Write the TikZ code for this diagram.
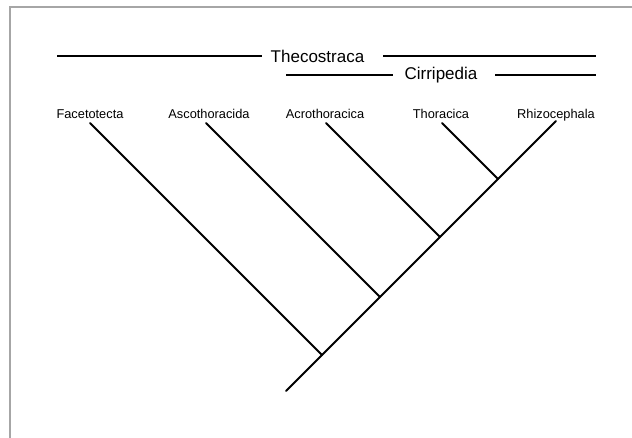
\documentclass[tikz,border=0pt]{standalone}
\usepackage{fontspec}
\setmainfont{Liberation Sans}
\usetikzlibrary{positioning}

\begin{document}
\begin{tikzpicture}[x=1pt,y=-1pt,
		thick,line width=1.8pt,
		taxon/.style = {anchor=base,inner sep=1pt,font=\fontsize{12.8}{14}\selectfont},
		group/.style = {inner sep=0pt,font=\fontsize{17}{20}\selectfont},
		branch/.style = {line width=1.8pt,line cap=round}]
			\useasboundingbox (0,0) rectangle (632,438);
			\draw[gray!70,line width=1.4pt] (10,438) -- (10,7) -- (632,7);
			% groups
			\node[group] at (317.5,56) (theco) {Thecostraca};
			\node[group] at (441,75) (cirri) {Cirripedia};
			\coordinate (theco l1) at (57,56);
			\coordinate (theco l2) at (262,56);
			\coordinate (theco r1) at (383,56);
			\coordinate (theco r2) at (596,56);
			\coordinate (cirri l1) at (286,75);
			\coordinate (cirri l2) at (393,75);
			\coordinate (cirri r1) at (495,75);
			\coordinate (cirri r2) at (596,75);
			\draw[-] (theco l1) -- (theco l2);
			\draw[-] (theco r1) -- (theco r2);
			\draw[-] (cirri l1) -- (cirri l2);
			\draw[-] (cirri r1) -- (cirri r2);
			% tree
			\coordinate (root) at (286,391);
			\coordinate (j1) at (322,355);
			\coordinate (j2) at (380,297);
			\coordinate (j3) at (440,237);
			\coordinate (j4) at (498,179);
			\coordinate (t1) at (90,123);
			\coordinate (t2) at (206,123);
			\coordinate (t3) at (326,123);
			\coordinate (t4) at (442,123);
			\coordinate (t5) at (556,121);
			\node[taxon] at (90,119) (facet) {Facetotecta};
			\node[taxon] at (209,119) (asco) {Ascothoracida};
			\node[taxon] at (325,119) (acro) {Acrothoracica};
			\node[taxon] at (441,119) (thor) {Thoracica};
			\node[taxon] at (556,119) (rhizo) {Rhizocephala};
			\draw[branch] (root) -- (j1) -- (j2) -- (j3) -- (j4) -- (t5);
			\draw[branch] (j1) -- (t1);
			\draw[branch] (j2) -- (t2);
			\draw[branch] (j3) -- (t3);
			\draw[branch] (j4) -- (t4);
		\end{tikzpicture}
\end{document}
